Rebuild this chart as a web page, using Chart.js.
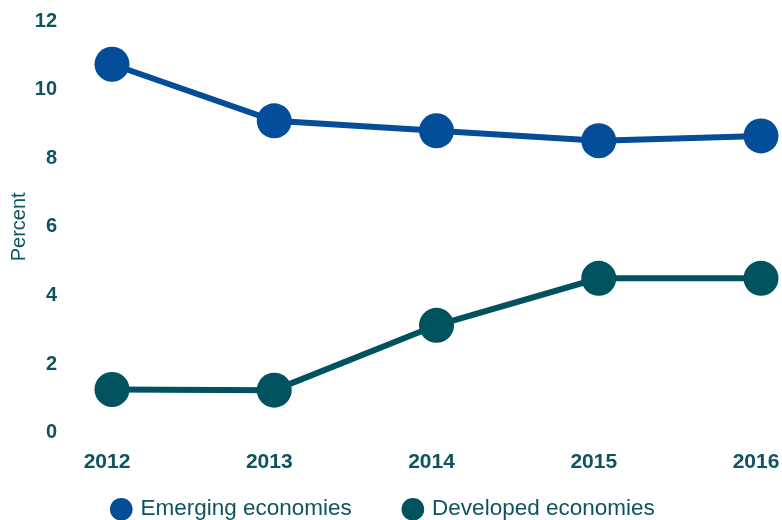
<!DOCTYPE html>
<html>
<head>
<meta charset="utf-8">
<script src="https://cdn.jsdelivr.net/npm/chart.js@4"></script>
<style>
  html, body { margin: 0; padding: 0; background: #fff; }
</style>
</head>
<body>
<canvas id="chart" width="782" height="520"></canvas>
<script>
var years = ['2012', '2013', '2014', '2015', '2016'];
var emerging = [10.74, 9.09, 8.80, 8.51, 8.65];
var developed = [1.26, 1.24, 3.13, 4.50, 4.50];
var yTicks = [0, 2, 4, 6, 8, 10, 12];

var blue = '#044e99';
var teal = '#00525e';
var textColor = '#0e5460';

// keep the wide gap between legend items but a short legend box
var legendSqueeze = {
    id: 'legendSqueeze',
    afterInit: function (chart) {
        var lg = chart.legend;
        var fit = lg.fit, draw = lg._draw;
        lg.fit = function () { fit.call(this); this.height = 44; };
        lg._draw = function () {
            var t = this.top;
            this.top = t - 31;
            draw.call(this);
            this.top = t;
        };
    }
};

var ctx = document.getElementById('chart');

new Chart(ctx, {
    type: 'line',
    data: {
        labels: years,
        datasets: [{
            label: 'Emerging economies',
            data: emerging,
            borderColor: blue,
            backgroundColor: blue,
            pointBackgroundColor: blue,
            borderWidth: 6,
            pointRadius: 17.5,
            pointHoverRadius: 17.5,
            pointBorderWidth: 0,
            clip: false
        }, {
            label: 'Developed economies',
            data: developed,
            borderColor: teal,
            backgroundColor: teal,
            pointBackgroundColor: teal,
            borderWidth: 6,
            pointRadius: 17.5,
            pointHoverRadius: 17.5,
            pointBorderWidth: 0,
            clip: false
        }]
    },
    plugins: [legendSqueeze],
    options: {
        responsive: false,
        animation: false,
        layout: { autoPadding: false, padding: { top: 21, right: 14, bottom: 0, left: 0 } },
        plugins: {
            tooltip: { enabled: false },
            legend: {
                position: 'bottom',
                labels: {
                    usePointStyle: true,
                    pointStyle: 'circle',
                    boxWidth: 16,
                    boxHeight: 16,
                    padding: 53,
                    color: textColor,
                    font: { family: "'Liberation Sans', Arial, sans-serif", size: 22.5 }
                }
            }
        },
        scales: {
            x: {
                offset: false,
                grid: { display: false, drawTicks: false },
                border: { display: false },
                afterFit: function (scale) {
                    scale.height = 43.3;
                    scale.paddingLeft = 0;
                    scale.paddingRight = 21;
                },
                ticks: {
                    color: textColor,
                    padding: 17,
                    labelOffset: -5,
                    maxRotation: 0,
                    font: { family: "'Liberation Sans', Arial, sans-serif", size: 21, weight: 'bold' }
                }
            },
            y: {
                min: 0,
                max: 12,
                afterBuildTicks: function (scale) {
                    scale.ticks = yTicks.map(function (v) { return { value: v }; });
                },
                afterFit: function (scale) {
                    scale.width = 112;
                    scale.paddingTop = 12;
                    scale.paddingBottom = 12;
                },
                grid: { display: false, drawTicks: false },
                border: { display: false },
                ticks: {
                    color: textColor,
                    padding: 55,
                    font: { family: "'Liberation Sans', Arial, sans-serif", size: 20, weight: 'bold' }
                },
                title: {
                    display: true,
                    text: 'Percent',
                    color: textColor,
                    padding: { top: 7, bottom: 0 },
                    font: { family: "'Liberation Sans', Arial, sans-serif", size: 20 }
                }
            }
        }
    }
});
</script>
</body>
</html>
